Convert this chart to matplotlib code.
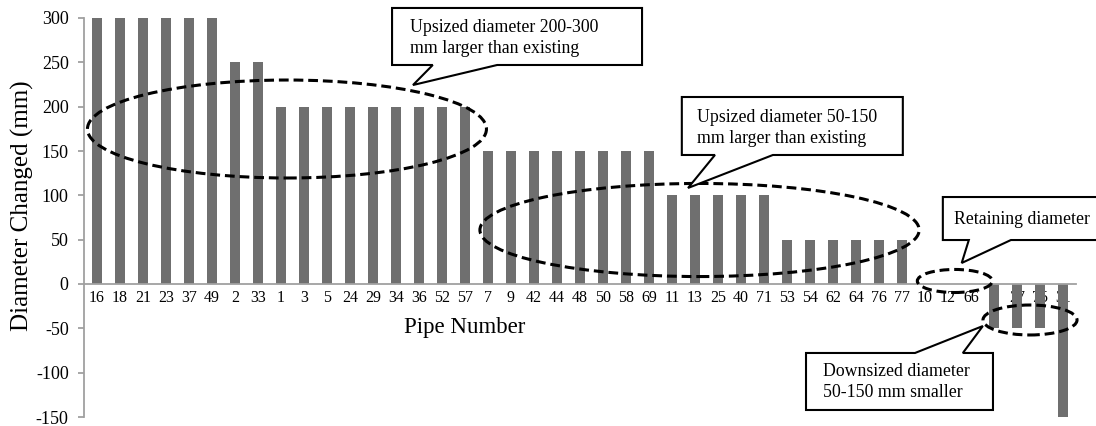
import numpy as np
import matplotlib
matplotlib.use("Agg")
import matplotlib.pyplot as plt
from matplotlib.patches import Ellipse, Polygon

plt.rcParams['font.family'] = ['Liberation Serif', 'DejaVu Serif']
plt.rcParams['axes.unicode_minus'] = False

# pipe numbers along the x axis and the change in diameter (mm)
pipes = ['16', '18', '21', '23', '37', '49', '2', '33', '1', '3', '5', '24', '29', '34',
         '36', '52', '57', '7', '9', '42', '44', '48', '50', '58', '69', '11', '13', '25',
         '40', '71', '53', '54', '62', '64', '76', '77', '10', '12', '66', '8', '27', '75', '31']
changed = [300, 300, 300, 300, 300, 300, 250, 250, 200, 200, 200, 200, 200, 200,
           200, 200, 200, 150, 150, 150, 150, 150, 150, 150, 150, 100, 100, 100,
           100, 100, 50, 50, 50, 50, 50, 50, 0, 0, 0, -50, -50, -50, -150]
y_ticks = [-150, -100, -50, 0, 50, 100, 150, 200, 250, 300]

callout_texts = ['Upsized diameter 200-300\nmm larger than existing',
                 'Upsized diameter 50-150\nmm larger than existing',
                 'Retaining diameter',
                 'Downsized diameter\n50-150 mm smaller']

fig = plt.figure(figsize=(10.96, 4.26), dpi=100)
ax = fig.add_axes([84/1096, 9/426, (1076-84)/1096, (417-18)/426])

x = np.arange(len(pipes))
ax.bar(x, changed, width=0.43, color='#6f6f6f', zorder=2)

ax.set_xlim(-0.565, 42.57)
ax.set_ylim(-150, 300)
ax.set_yticks(y_ticks)
ax.set_xticks(x)
ax.set_xticklabels(pipes)

axis_grey = '#a0a0a0'
for s in ['top', 'right']:
    ax.spines[s].set_visible(False)
ax.spines['bottom'].set_position(('data', 0))
ax.spines['bottom'].set_color(axis_grey)
ax.spines['left'].set_color(axis_grey)
ax.spines['bottom'].set_linewidth(1.3)
ax.spines['left'].set_linewidth(1.3)
ax.tick_params(axis='x', length=0, pad=4, labelsize=11.5)
ax.tick_params(axis='y', length=4, width=1.3, color=axis_grey, pad=7, labelsize=13)

ax.set_ylabel('Diameter Changed (mm)', fontsize=18)
ax.yaxis.set_label_coords(-0.05, 0.53)
ax.text(16.0, -49.6, 'Pipe Number', fontsize=16.5, ha='center', va='center')

# dashed ellipses around the groups
ellipses = [(8.26, 174.8, 17.35, 110.5),
            (26.2, 60.9, 19.1, 105.0),
            (37.3, 3.4, 3.26, 26.0),
            (40.57, -40.6, 4.09, 33.8)]
for cx, cy, w, h in ellipses:
    ax.add_patch(Ellipse((cx, cy), w, h, fill=False, ec='black', lw=2.2,
                         ls=(0, (3.2, 1.6)), zorder=6, clip_on=False))


# speech-bubble callouts: box corners, pointer base on one side, and pointer tip
def callout(x0, x1, ytop, ybot, b0, b1, tip, side):
    if side == 'bottom':
        pts = [(x0, ytop), (x1, ytop), (x1, ybot), (b1, ybot), tip, (b0, ybot), (x0, ybot)]
    else:
        pts = [(x0, ytop), (b0, ytop), tip, (b1, ytop), (x1, ytop), (x1, ybot), (x0, ybot)]
    ax.add_patch(Polygon(pts, closed=True, fc='white', ec='black', lw=1.5,
                         zorder=7, clip_on=False, joinstyle='miter'))


callout(12.83, 23.70, 311.3, 247.0, 14.6, 17.4, (13.74, 224.4), 'bottom')
callout(25.43, 35.04, 210.9, 145.5, 26.87, 29.39, (25.7, 108.3), 'bottom')
callout(36.78, 44.5, 98.1, 49.6, 37.91, 39.74, (37.6, 23.7), 'bottom')
callout(30.83, 38.96, -77.8, -142.1, 35.57, 37.65, (38.52, -47.4), 'top')

text_pos = [(13.6, 277.4), (26.09, 175.9), (37.26, 72.2), (31.57, -110.5)]
for (tx, ty), t in zip(text_pos, callout_texts):
    ax.text(tx, ty, t, fontsize=12.8, ha='left', va='center', zorder=8,
            linespacing=1.35, clip_on=False)

fig.savefig('out.png', dpi=100)
